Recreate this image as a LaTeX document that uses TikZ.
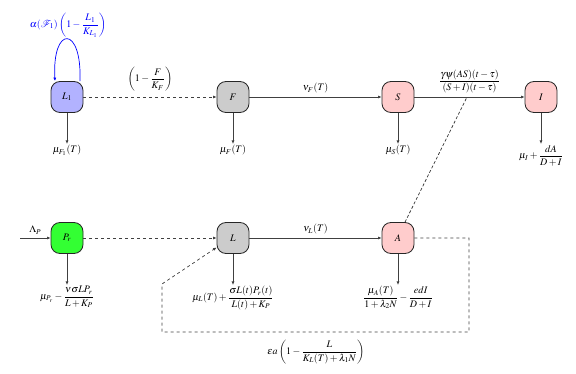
\documentclass[tikz,border=0pt]{standalone}
\usepackage{amsmath}
\usepackage{amssymb}
\usepackage{mathptmx}
\usepackage{xcolor}
\usepackage{tikz}
\usetikzlibrary{arrows.meta}

\begin{document}
\begin{tikzpicture}[x=1pt, y=-1pt,
    comp/.style={rectangle, draw=black!85, line width=0.8pt, rounded corners=9pt, minimum width=32pt, minimum height=31pt, inner sep=0pt},
    flow/.style={draw=black!75, line width=0.7pt, -{Latex[length=3.5pt, width=3pt]}},
    feed/.style={flow, dashed},
    hit/.style={draw=black!80, line width=0.7pt, densely dashed},
    rate/.style={anchor=north, inner sep=1pt}
]
\useasboundingbox (0,0) rectangle (576,374);
% upper row
\node[comp, fill=blue!30] (L1) at (67,97) {$L_1$};
\node[comp, fill=gray!40] (F) at (233,97) {$F$};
\node[comp, fill=red!20] (S) at (398,97) {$S$};
\node[comp, fill=red!20] (I) at (541,97) {$I$};
% lower row
\node[comp, fill=green!80] (Pr) at (67,238) {$P_r$};
\node[comp, fill=gray!40] (L) at (233,238) {$L$};
\node[comp, fill=red!20] (A) at (398,238) {$A$};
% losses
\node[rate] (mL1) at (67,144) {$\mu_{F_1}(T)$};
\node[rate] (mF) at (233,144) {$\mu_F(T)$};
\node[rate] (mS) at (398,144) {$\mu_S(T)$};
\node[rate] (mI) at (541,144) {$\mu_I+\dfrac{dA}{D+I}$};
\node[rate] (mPr) at (67,285) {$\mu_{P_r}-\dfrac{\nu\sigma L P_r}{L+K_P}$};
\node[rate] (mL) at (233,285) {$\mu_L(T)+\dfrac{\sigma L(t)P_r(t)}{L(t)+K_P}$};
\node[rate] (mA) at (398,285) {$\dfrac{\mu_A(T)}{1+\lambda_2 N}-\dfrac{edI}{D+I}$};
\foreach \a/\b in {L1/mL1, F/mF, S/mS, I/mI, Pr/mPr, L/mL, A/mA}
  \draw[flow] (\a.south) -- (\b.north);
% growth of L1
\draw[flow, blue] ([xshift=13pt]L1.north) .. controls (82,25) and (52,25) .. ([xshift=-12pt]L1.north);
\node[blue, inner sep=0pt] (gL1) at (68,25) {$\alpha(\mathcal{F}_1)\left(1-\dfrac{L_1}{K_{L_1}}\right)$};
% transfers
\draw[feed] (L1) -- node[above=2pt] {$\left(1-\dfrac{F}{K_F}\right)$} (F);
\draw[flow] (F) -- node[above] {$\nu_F(T)$} (S);
\draw[flow] (S) -- node[above] {$\dfrac{\gamma\psi(AS)(t-\tau)}{(S+I)(t-\tau)}$} (I);
\coordinate (SI) at (467,97);
\draw[hit] ([xshift=7pt]A.north) -- (SI);
\coordinate (src) at (20,238);
\draw[flow] (src) -- node[above] {$\Lambda_P$} (Pr);
\draw[feed] (Pr) -- (L);
\draw[flow] (L) -- node[above] {$\nu_L(T)$} (A);
\draw[feed] (A.east) -- (469,238) -- (469,332) -- (162,332) -- (162,284) -- (L.210);
\node (eps) at (316,352) {$\epsilon a\left(1-\dfrac{L}{K_L(T)+\lambda_1 N}\right)$};
\end{tikzpicture}
\end{document}
